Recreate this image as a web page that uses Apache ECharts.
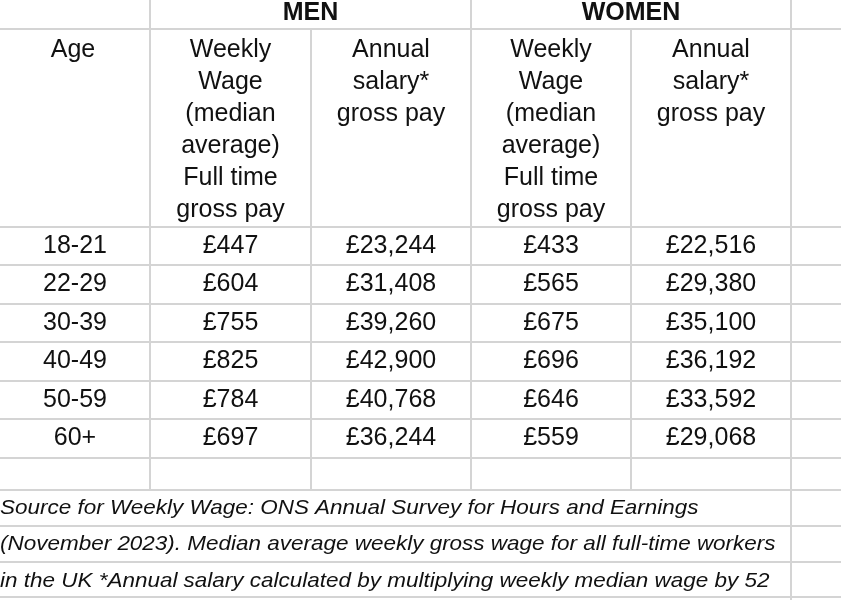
<!DOCTYPE html>
<html><head><meta charset="utf-8">
<script src="https://cdn.jsdelivr.net/npm/echarts@6/dist/echarts.min.js"></script>
<style>html,body{margin:0;padding:0;background:#fff}#c{width:841px;height:600px}</style>
</head><body><div id="c"></div>
<script>
const groups = ['MEN', 'WOMEN'];
const headers = [
  ['Age'],
  ['Weekly','Wage','(median','average)','Full time','gross pay'],
  ['Annual','salary*','gross pay'],
  ['Weekly','Wage','(median','average)','Full time','gross pay'],
  ['Annual','salary*','gross pay']
];
const ages = ['18-21','22-29','30-39','40-49','50-59','60+'];
const menWeekly = ['£447','£604','£755','£825','£784','£697'];
const menAnnual = ['£23,244','£31,408','£39,260','£42,900','£40,768','£36,244'];
const womenWeekly = ['£433','£565','£675','£696','£646','£559'];
const womenAnnual = ['£22,516','£29,380','£35,100','£36,192','£33,592','£29,068'];
const notes = [
  'Source for Weekly Wage: ONS Annual Survey for Hours and Earnings',
  '(November 2023). Median average weekly gross wage for all full-time workers',
  'in the UK *Annual salary calculated by multiplying weekly median wage by 52'
];

const colX = [0,150,311,471,631,791,841];
const rowY = [227,265,304,342,381,419,458];
const lineC = '#d4d4d4';
const font = '"Liberation Sans", Arial, sans-serif';
const els = [];
function line(x1,y1,x2,y2){els.push({type:'line',shape:{x1,y1,x2,y2},style:{stroke:lineC,lineWidth:2}});}
function text(t,x,y,opts){els.push({type:'text',x,y,style:Object.assign({text:t,fill:'#111',font:'25px '+font,textAlign:'center',textVerticalAlign:'middle'},opts||{})});}
line(150,0,150,490);
line(471,0,471,490);
line(311,29,311,490);
line(631,29,631,490);
line(791,0,791,600);
line(0,29,841,29);
rowY.forEach(y=>line(0,y,841,y));
[490,526,562,597].forEach(y=>line(0,y,841,y));
groups.forEach((g,i)=>text(g,(colX[1+2*i]+colX[3+2*i])/2,13,{font:'bold 25px '+font}));
headers.forEach((h,c)=>h.forEach((t,k)=>text(t,(colX[c]+colX[c+1])/2+(c===0?-2:0),50+k*32)));
const cols=[ages,menWeekly,menAnnual,womenWeekly,womenAnnual];
cols.forEach((arr,c)=>arr.forEach((t,r)=>text(t,(colX[c]+colX[c+1])/2,(rowY[r]+rowY[r+1])/2)));
notes.forEach((t,k)=>els.push({type:'text',x:0,y:508+k*36.5,scaleX:1.07,style:{text:t,fill:'#111',font:'italic 21px '+font,textAlign:'left',textVerticalAlign:'middle'}}));
const chart = echarts.init(document.getElementById('c'));
chart.setOption({animation:false,graphic:{elements:els}});
</script></body></html>
